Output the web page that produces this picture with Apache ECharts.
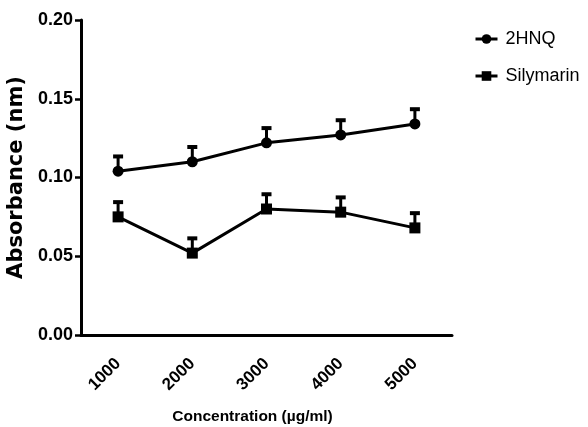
<!DOCTYPE html>
<html>
<head>
<meta charset="utf-8">
<script src="https://cdn.jsdelivr.net/npm/echarts@6/dist/echarts.min.js"></script>
<style>html,body{margin:0;padding:0;background:#fff}#c{width:588px;height:427px}</style>
</head>
<body>
<div id="c"></div>
<script>
const categories = ['1000', '2000', '3000', '4000', '5000'];
const hnqValues = [0.104, 0.110, 0.122, 0.127, 0.134];
const hnqErrors = [0.010, 0.010, 0.010, 0.010, 0.010];
const silValues = [0.075, 0.052, 0.080, 0.078, 0.068];
const silErrors = [0.010, 0.010, 0.010, 0.010, 0.010];
const yTicks = [0, 0.05, 0.10, 0.15, 0.20];

const chart = echarts.init(document.getElementById('c'));
const errData = (vals, errs) => vals.map((v, i) => [i, v, errs[i]]);
function renderErr(params, api) {
  const x = api.value(0), y = api.value(1), e = api.value(2);
  const p0 = api.coord([x, y]);
  const p1 = api.coord([x, y + e]);
  return {
    type: 'group',
    children: [
      {type: 'line', shape: {x1: p0[0], y1: p0[1], x2: p1[0], y2: p1[1]}, style: {stroke: '#000', lineWidth: 3}},
      {type: 'rect', shape: {x: p1[0] - 5, y: p1[1] - 1, width: 10, height: 4}, style: {fill: '#000'}}
    ]
  };
}
const arial = "'Liberation Sans', Arial, sans-serif";
chart.setOption({
  animation: false,
  grid: {left: 81, right: 136, top: 20, bottom: 92, containLabel: false, outerBoundsMode: 'none'},
  legend: {
    orient: 'vertical', left: 469, top: 25, itemGap: 19, itemWidth: 22, itemHeight: 12,
    data: ['2HNQ', 'Silymarin'],
    lineStyle: {width: 3},
    textStyle: {fontFamily: arial, fontSize: 18, color: '#000', padding: [0, 0, 0, 3]}
  },
  xAxis: {
    type: 'category', data: categories, boundaryGap: true,
    axisLine: {lineStyle: {color: '#000', width: 3}},
    axisTick: {alignWithLabel: true, length: 6, lineStyle: {color: '#000', width: 2.5}},
    axisLabel: {rotate: 45, margin: 26, color: '#000', fontFamily: arial, fontWeight: 'bold', fontSize: 17},
    name: 'Concentration (µg/ml)', nameLocation: 'middle', nameGap: 74,
    nameTextStyle: {fontFamily: arial, fontWeight: 'bold', fontSize: 15.5, color: '#000', padding: [0, 28, 0, 0]}
  },
  yAxis: {
    type: 'value', min: yTicks[0], max: yTicks[yTicks.length - 1], interval: 0.05,
    splitLine: {show: false},
    axisLine: {show: true, lineStyle: {color: '#000', width: 3}},
    axisTick: {show: true, length: 6, lineStyle: {color: '#000', width: 2.5}},
    axisLabel: {margin: 8, color: '#000', fontFamily: arial, fontWeight: 'bold', fontSize: 18, formatter: v => v.toFixed(2)},
    name: 'Absorbance (nm)', nameLocation: 'middle', nameGap: 53, nameRotate: 90,
    nameTextStyle: {fontFamily: "'DejaVu Sans', sans-serif", fontWeight: 'bold', fontSize: 21, color: '#000'}
  },
  series: [
    {type: 'custom', name: 'err1', renderItem: renderErr, data: errData(hnqValues, hnqErrors), z: 1, encode: {x: 0, y: 1}, silent: true},
    {type: 'custom', name: 'err2', renderItem: renderErr, data: errData(silValues, silErrors), z: 1, encode: {x: 0, y: 1}, silent: true},
    {type: 'line', name: '2HNQ', data: hnqValues, symbol: 'circle', symbolSize: 11, z: 3,
      lineStyle: {color: '#000', width: 3}, itemStyle: {color: '#000'}},
    {type: 'line', name: 'Silymarin', data: silValues, symbol: 'rect', symbolSize: 11, z: 3,
      lineStyle: {color: '#000', width: 3}, itemStyle: {color: '#000'}}
  ]
});
</script>
</body>
</html>
